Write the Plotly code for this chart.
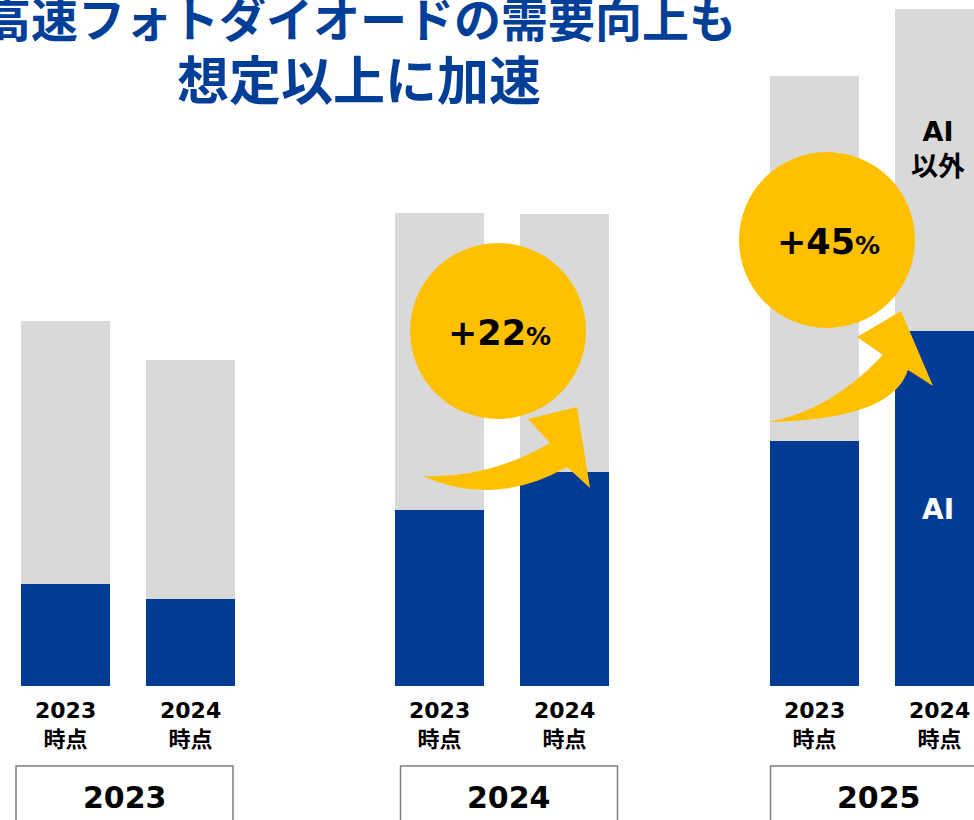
import plotly.graph_objects as go

# data (heights, arbitrary units)
groups = ['2023', '2024', '2025']
sub_labels = ['2023<br>時点', '2024<br>時点']
ai = [102, 87, 176, 214, 245, 355]
non_ai = [263, 239, 297, 258, 365, 322]
growth = ['+22', '+45']

blue = '#003C95'
grey = '#D9D9D9'
yellow = '#FFC000'
jp_font = 'DejaVu Sans, Noto Sans CJK JP'

# bar positions: two bars per group
group_x = [128, 502, 877]
offset = 62.5
bar_x = []
for gx in group_x:
    bar_x += [gx - offset, gx + offset]

fig = go.Figure()

# AI part
fig.add_trace(go.Bar(x=bar_x, y=ai, width=89, name='AI',
                     marker=dict(color=blue, line=dict(width=0))))
# non-AI part
fig.add_trace(go.Bar(x=bar_x, y=non_ai, width=89, name='AI以外',
                     marker=dict(color=grey, line=dict(width=0))))

shapes = []
annotations = []

# bar labels under each bar
for i, x in enumerate(bar_x):
    annotations.append(dict(x=x, y=-39, xref='x', yref='y', showarrow=False,
                            text='<b>' + sub_labels[i % 2] + '</b>',
                            font=dict(family=jp_font, size=22, color='black')))

# year boxes
box_x = [124.5, 509, 879]
for bx, g in zip(box_x, groups):
    shapes.append(dict(type='rect', xref='x', yref='y', x0=bx - 108.5, x1=bx + 108.5,
                       y0=-160, y1=-80, line=dict(color='#7F7F7F', width=1.5),
                       fillcolor='rgba(0,0,0,0)', layer='above'))
    annotations.append(dict(x=bx, y=-111, xref='x', yref='y', showarrow=False,
                            text='<b>' + g + '</b>',
                            font=dict(family=jp_font, size=30, color='black')))

# growth circles
circles = [(498, 355), (827, 446)]
for (cx, cy), g in zip(circles, growth):
    shapes.append(dict(type='circle', xref='x', yref='y', x0=cx - 88, x1=cx + 88,
                       y0=cy - 88, y1=cy + 88, fillcolor=yellow,
                       line=dict(width=0), layer='above'))
    annotations.append(dict(x=cx + 1, y=cy - 2, xref='x', yref='y', showarrow=False,
                            text='<b>' + g + "<span style='font-size:25px'>%</span></b>",
                            font=dict(family=jp_font, size=35, color='black')))

# curved arrows
arrow_paths = [
    'M 422,210 Q 488,207 550,243 L 528,267 L 577,279 L 590,198 L 567,219 Q 495,178 422,210 Z',
    'M 767,264 Q 829,274 883,331 L 857,349 L 901,375 L 933,300 L 908,316 Q 892,266 767,264 Z',
]
for p in arrow_paths:
    shapes.append(dict(type='path', xref='x', yref='y', path=p, fillcolor=yellow,
                       line=dict(width=0), layer='above'))

# series labels on the last bar
annotations.append(dict(x=938, y=537, xref='x', yref='y', showarrow=False,
                        text='<b>AI<br>以外</b>',
                        font=dict(family=jp_font, size=27, color='black')))
annotations.append(dict(x=938, y=177, xref='x', yref='y', showarrow=False,
                        text='<b>AI</b>',
                        font=dict(family=jp_font, size=28, color='white')))

# title (first line is cut by the top edge in the source)
annotations.append(dict(x=360, y=686 - 16, xref='x', yref='y', yanchor='middle', showarrow=False,
                        text='<b>高速フォトダイオードの需要向上も</b>',
                        font=dict(family='Noto Sans CJK JP', size=47, color='#003E97', weight=900)))
annotations.append(dict(x=359, y=686 - 77, xref='x', yref='y', yanchor='middle', showarrow=False,
                        text='<b>想定以上に加速</b>',
                        font=dict(family='Noto Sans CJK JP', size=52, color='#003E97', weight=900)))

fig.update_layout(
    width=974, height=820,
    barmode='stack', bargap=0,
    margin=dict(l=0, r=0, t=0, b=0),
    plot_bgcolor='white', paper_bgcolor='white',
    showlegend=False,
    xaxis=dict(visible=False, range=[0, 974], fixedrange=True),
    yaxis=dict(visible=False, range=[-134, 686], fixedrange=True),
    shapes=shapes,
    annotations=annotations,
)

fig.write_html('out.html', config={'displayModeBar': False},
               post_script="document.body.style.margin='0';")
